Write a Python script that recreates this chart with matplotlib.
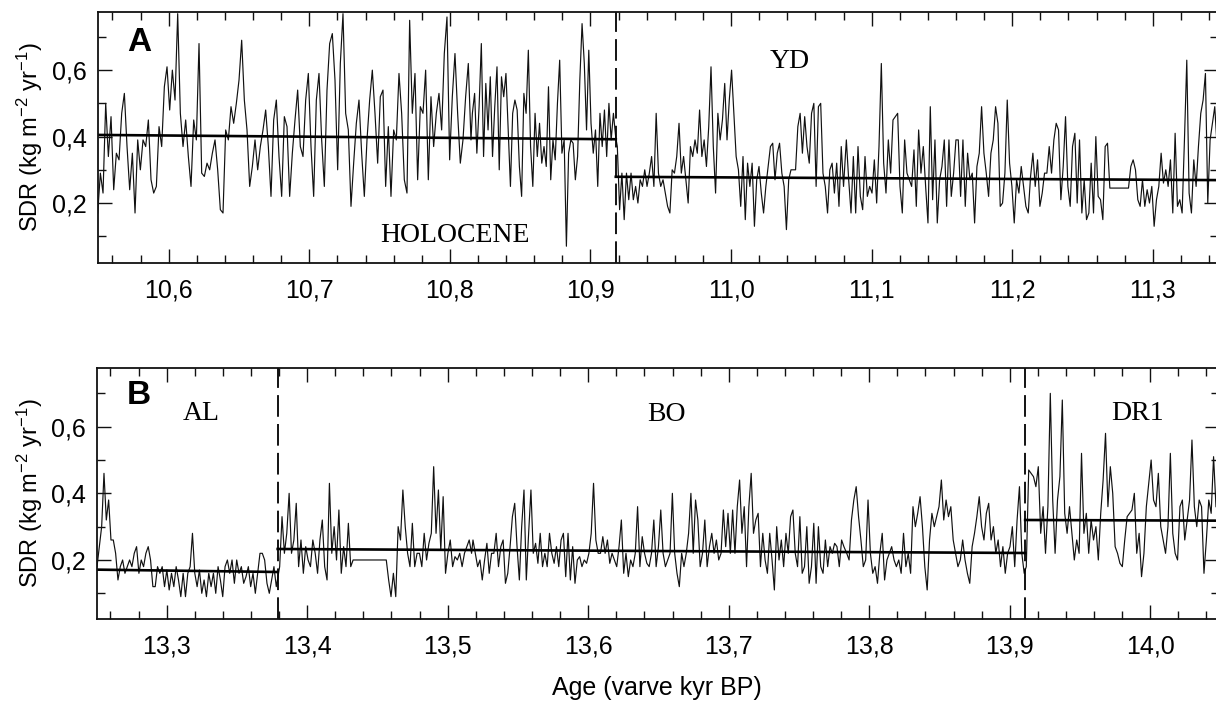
import numpy as np
import matplotlib
matplotlib.use("Agg")
import matplotlib.pyplot as plt
from matplotlib.ticker import MultipleLocator, FuncFormatter

plt.rcParams['font.family'] = ['Liberation Sans', 'DejaVu Sans']
plt.rcParams['mathtext.fontset'] = 'custom'
plt.rcParams['mathtext.rm'] = 'Liberation Sans'
plt.rcParams['mathtext.it'] = 'Liberation Sans:italic'
plt.rcParams['mathtext.bf'] = 'Liberation Sans:bold'

# ---------------- DATA (SDR, kg m-2 yr-1) ----------------
# Panel A : Holocene / Younger Dryas
holo_a_span = (10.5495, 10.815)
holo_a = [0.17,0.29,0.23,0.50,0.34,0.46,0.24,0.35,0.33,0.47,
          0.53,0.37,0.24,0.35,0.17,0.39,0.30,0.39,0.37,0.45,
          0.27,0.23,0.25,0.43,0.37,0.55,0.61,0.48,0.60,0.51,
          0.77,0.47,0.37,0.45,0.34,0.25,0.45,0.39,0.68,0.29,
          0.28,0.32,0.30,0.35,0.39,0.30,0.18,0.17,0.42,0.39,
          0.49,0.44,0.50,0.57,0.69,0.51,0.42,0.25,0.31,0.39,
          0.30,0.37,0.42,0.48,0.37,0.22,0.45,0.51,0.34,0.22,
          0.46,0.43,0.22,0.35,0.45,0.54,0.37,0.34,0.51,0.59,
          0.37,0.22,0.51,0.59,0.39,0.25,0.54,0.68,0.71,0.57,
          0.30,0.62,0.77,0.47,0.42,0.19,0.32,0.44,0.51,0.35,
          0.22,0.39,0.51,0.60,0.47,0.32,0.52,0.54,0.25,0.43,
          0.22,0.42,0.39,0.59,0.47,0.27,0.23,0.75,0.47,0.59,
          0.27,0.49,0.47,0.60,0.27,0.52,0.37,0.47,0.53,0.42,
          0.65,0.76,0.33,0.52,0.65,0.47,0.32,0.39,0.52,0.62,0.39]
holo_b_span = (10.816, 10.9179)
holo_b = [0.47,0.53,0.35,0.49,0.68,0.34,0.56,0.42,0.58,0.34,
          0.49,0.61,0.30,0.58,0.52,0.59,0.42,0.25,0.47,0.51,
          0.48,0.31,0.22,0.53,0.47,0.66,0.37,0.25,0.47,0.34,
          0.44,0.32,0.37,0.31,0.55,0.27,0.39,0.33,0.50,0.63,
          0.35,0.39,0.07,0.35,0.39,0.38,0.27,0.34,0.57,0.74,
          0.62,0.42,0.66,0.44,0.35,0.42,0.25,0.47,0.37,0.48,
          0.34,0.50,0.39,0.47,0.40]
yd_a_span = (10.9191, 11.080)
yd_a = [0.37,0.18,0.29,0.15,0.29,0.21,0.29,0.21,0.25,0.20,
        0.27,0.25,0.30,0.25,0.29,0.34,0.25,0.47,0.29,0.25,
        0.27,0.23,0.19,0.17,0.30,0.29,0.34,0.44,0.29,0.34,
        0.27,0.20,0.37,0.34,0.39,0.35,0.48,0.34,0.39,0.31,
        0.43,0.61,0.37,0.23,0.47,0.39,0.45,0.56,0.39,0.51,
        0.60,0.47,0.34,0.30,0.19,0.34,0.15,0.32,0.25,0.32,
        0.13,0.27,0.31,0.23,0.17,0.25,0.31,0.37,0.38,0.27,
        0.35,0.38,0.29,0.25,0.12,0.27,0.30,0.30,0.30,0.43,
        0.47,0.35,0.46,0.37,0.32,0.47,0.50,0.25,0.49,0.50,
        0.29,0.25,0.17,0.30,0.32,0.23,0.32,0.19,0.37,0.25]
yd_b_span = (11.082, 11.3457)
yd_b = [0.39,0.27,0.17,0.34,0.17,0.37,0.22,0.18,0.34,0.22,
        0.25,0.23,0.33,0.20,0.37,0.62,0.32,0.23,0.39,0.29,
        0.45,0.46,0.47,0.25,0.17,0.39,0.29,0.27,0.25,0.36,
        0.19,0.42,0.29,0.37,0.25,0.14,0.49,0.21,0.39,0.14,
        0.27,0.31,0.39,0.19,0.39,0.22,0.29,0.39,0.39,0.22,
        0.39,0.19,0.35,0.27,0.29,0.14,0.31,0.35,0.49,0.35,
        0.29,0.22,0.35,0.39,0.49,0.44,0.19,0.20,0.29,0.51,
        0.32,0.25,0.14,0.27,0.23,0.31,0.25,0.19,0.17,0.28,
        0.35,0.25,0.33,0.19,0.23,0.29,0.29,0.37,0.29,0.39,
        0.44,0.42,0.21,0.31,0.46,0.25,0.19,0.37,0.41,0.20,
        0.39,0.17,0.27,0.15,0.17,0.32,0.17,0.40,0.22,0.21,
        0.15,0.37,0.38,0.245,0.245,0.245,0.245,0.245,0.245,0.245,
        0.245,0.245,0.31,0.33,0.30,0.21,0.19,0.27,0.19,0.24,
        0.20,0.25,0.13,0.21,0.25,0.35,0.26,0.30,0.25,0.33,
        0.17,0.41,0.19,0.21,0.17,0.39,0.63,0.23,0.17,0.33,
        0.25,0.37,0.47,0.51,0.59,0.20,0.39,0.44,0.49,0.37]

# Panel B : Allerød / Bølling / Older Dryas
al_span = (13.2504, 13.378)
al = [0.18,0.24,0.30,0.46,0.32,0.38,0.26,0.26,0.22,0.14,
      0.18,0.20,0.16,0.18,0.20,0.18,0.22,0.24,0.16,0.20,
      0.18,0.22,0.24,0.20,0.12,0.12,0.18,0.16,0.18,0.12,
      0.17,0.11,0.16,0.12,0.18,0.14,0.09,0.16,0.09,0.16,
      0.18,0.28,0.16,0.12,0.17,0.10,0.14,0.09,0.16,0.12,
      0.16,0.10,0.18,0.14,0.09,0.18,0.20,0.16,0.20,0.13,
      0.20,0.16,0.18,0.13,0.15,0.18,0.12,0.16,0.10,0.16,
      0.22,0.22,0.20,0.13,0.10,0.14,0.18,0.12]
bo_a_span = (13.3804, 13.517)
bo_a = [0.18,0.33,0.22,0.28,0.40,0.22,0.26,0.37,0.18,0.26,
        0.16,0.24,0.20,0.18,0.26,0.22,0.16,0.26,0.32,0.18,
        0.14,0.43,0.22,0.30,0.20,0.35,0.16,0.24,0.18,0.31,
        0.18,0.20,0.20,0.20,0.20,0.20,0.20,0.20,0.20,0.20,
        0.20,0.20,0.20,0.20,0.20,0.20,0.14,0.09,0.16,0.09,
        0.30,0.26,0.41,0.30,0.22,0.18,0.31,0.18,0.22,0.22,
        0.18,0.28,0.20,0.25,0.28,0.48,0.28,0.41,0.23,0.39,
        0.16,0.22,0.26,0.18,0.21,0.20,0.22,0.18,0.22,0.24,
        0.26,0.22]
bo_b_span = (13.518, 13.782)
bo_b = [0.26,0.22,0.18,0.20,0.14,0.20,0.25,0.16,0.22,0.22,
        0.28,0.18,0.24,0.26,0.13,0.16,0.24,0.33,0.37,0.24,
        0.14,0.30,0.41,0.14,0.28,0.41,0.22,0.25,0.19,0.28,
        0.18,0.22,0.18,0.28,0.22,0.19,0.24,0.18,0.26,0.28,
        0.15,0.28,0.14,0.24,0.13,0.20,0.21,0.18,0.20,0.19,
        0.22,0.28,0.43,0.26,0.22,0.22,0.27,0.22,0.26,0.19,
        0.22,0.20,0.18,0.24,0.32,0.16,0.22,0.15,0.20,0.18,
        0.22,0.36,0.18,0.27,0.22,0.19,0.18,0.22,0.32,0.18,
        0.24,0.35,0.22,0.18,0.20,0.22,0.40,0.22,0.16,0.12,
        0.22,0.18,0.22,0.28,0.40,0.22,0.38,0.32,0.18,0.22,
        0.32,0.18,0.24,0.28,0.22,0.26,0.20,0.22,0.35,0.24,
        0.34,0.22,0.35,0.22,0.36,0.44,0.28,0.36,0.18,0.36,
        0.46,0.28,0.32,0.34,0.18,0.28,0.20,0.16,0.28,0.20,
        0.11,0.30,0.20,0.26,0.18,0.28,0.22,0.33,0.35,0.22,
        0.18,0.33,0.16,0.18,0.30,0.13,0.18,0.31,0.13,0.30,
        0.18,0.16,0.26,0.18,0.24,0.22,0.25,0.24,0.18,0.26,0.24]
bo_c_span = (13.784, 13.9103)
bo_c = [0.22,0.20,0.32,0.38,0.42,0.33,0.26,0.18,0.20,0.38,
        0.22,0.16,0.18,0.13,0.22,0.28,0.14,0.20,0.22,0.24,
        0.20,0.18,0.20,0.16,0.28,0.18,0.22,0.16,0.36,0.30,
        0.34,0.39,0.30,0.18,0.11,0.26,0.34,0.30,0.33,0.36,
        0.44,0.32,0.38,0.33,0.36,0.26,0.22,0.18,0.20,0.26,
        0.20,0.16,0.13,0.24,0.28,0.33,0.39,0.30,0.26,0.34,
        0.37,0.26,0.30,0.22,0.26,0.18,0.24,0.16,0.22,0.24,
        0.30,0.18,0.32,0.42,0.22,0.16]
dr1_span = (13.9118, 14.0468)
dr1 = [0.18,0.47,0.46,0.45,0.42,0.48,0.28,0.36,0.22,0.36,
       0.70,0.38,0.22,0.38,0.45,0.68,0.34,0.28,0.36,0.28,
       0.20,0.26,0.22,0.52,0.28,0.34,0.22,0.32,0.26,0.30,
       0.20,0.34,0.44,0.58,0.36,0.48,0.40,0.24,0.22,0.19,
       0.18,0.26,0.33,0.34,0.35,0.40,0.22,0.28,0.15,0.22,
       0.36,0.43,0.50,0.38,0.36,0.46,0.30,0.26,0.22,0.30,
       0.52,0.28,0.22,0.20,0.36,0.38,0.26,0.32,0.38,0.56,
       0.36,0.30,0.38,0.36,0.16,0.26,0.38,0.34,0.51,0.36]

# Period boundaries (kyr BP) and fitted period means (start, end values)
bounds_A = [10.918]
bounds_B = [13.379, 13.911]
mean_holocene = (0.405, 0.392)
mean_yd = (0.279, 0.269)
mean_al = (0.171, 0.164)
mean_bo = (0.233, 0.221)
mean_dr1 = (0.320, 0.318)

xlim_A = (10.5495, 11.3467)
xlim_B = (13.2504, 14.0486)
ylim_A = (0.0195, 0.775)
ylim_B = (0.022, 0.777)


def series(*segments):
    ages, vals = [], []
    for span, v in segments:
        ages.append(np.linspace(span[0], span[1], len(v)))
        vals.append(np.asarray(v, dtype=float))
    return np.concatenate(ages), np.concatenate(vals)


ageA, sdrA = series((holo_a_span, holo_a), (holo_b_span, holo_b),
                    (yd_a_span, yd_a), (yd_b_span, yd_b))
ageB, sdrB = series((al_span, al), (bo_a_span, bo_a), (bo_b_span, bo_b),
                    (bo_c_span, bo_c), (dr1_span, dr1))

# ---------------- FIGURE ----------------
W, H = 1216, 701
fig = plt.figure(figsize=(W / 100, H / 100), dpi=100)


def px_axes(l, t, r, b):
    return fig.add_axes([l / W, 1 - b / H, (r - l) / W, (b - t) / H])


axA = px_axes(97.7, 12, 1218.5, 263)
axB = px_axes(97.0, 367.7, 1218.5, 619.3)

comma = FuncFormatter(lambda v, p: f"{v:.1f}".replace('.', ','))

for ax, xl, yl in ((axA, xlim_A, ylim_A), (axB, xlim_B, ylim_B)):
    ax.set_xlim(*xl)
    ax.set_ylim(*yl)
    ax.xaxis.set_major_locator(MultipleLocator(0.1))
    ax.xaxis.set_minor_locator(MultipleLocator(0.02))
    ax.yaxis.set_major_locator(MultipleLocator(0.2))
    ax.yaxis.set_minor_locator(MultipleLocator(0.1))
    ax.xaxis.set_major_formatter(comma)
    ax.yaxis.set_major_formatter(comma)
    ax.tick_params(which='both', direction='in', top=True, right=True,
                   width=1.0, color='#111111')
    ax.tick_params(which='major', length=10)
    ax.tick_params(which='minor', length=6)
    ax.tick_params(axis='x', which='major', labelsize=18, pad=11)
    ax.tick_params(axis='y', which='major', labelsize=18, pad=8)
    for s in ax.spines.values():
        s.set_linewidth(1.3)
        s.set_color('#111111')

# data lines
axA.plot(ageA, sdrA, color='#111111', lw=0.85)
axB.plot(ageB, sdrB, color='#111111', lw=0.85)

# mean lines
axA.plot([xlim_A[0], bounds_A[0]], mean_holocene, color='k', lw=1.9)
axA.plot([bounds_A[0], xlim_A[1]], mean_yd, color='k', lw=1.9)
axB.plot([xlim_B[0], bounds_B[0]], mean_al, color='k', lw=1.9)
axB.plot([bounds_B[0], bounds_B[1]], mean_bo, color='k', lw=1.9)
axB.plot([bounds_B[1], xlim_B[1]], mean_dr1, color='k', lw=1.9)

# period boundaries
for b in bounds_A:
    axA.axvline(b, color='k', lw=1.3, dashes=(12, 4))
for b in bounds_B:
    axB.axvline(b, color='k', lw=1.3, dashes=(12, 4))


def ftext(x, y, s, **kw):
    fig.text(x / W, 1 - y / H, s, **kw)


ylab = 'SDR (kg m$^{-2}$ yr$^{-1}$)'
ftext(29.5, 137.5, ylab, rotation=90, ha='center', va='center', fontsize=17)
ftext(29.5, 493.5, ylab, rotation=90, ha='center', va='center', fontsize=17)
ftext(657, 688, 'Age (varve kyr BP)', ha='center', va='center', fontsize=18)

ftext(139, 51, 'A', ha='center', va='baseline', fontsize=24, fontweight='bold')
ftext(139, 404, 'B', ha='center', va='baseline', fontsize=24, fontweight='bold')

serif = dict(family=['Liberation Serif', 'DejaVu Serif'], fontsize=20,
             ha='center', va='baseline')
ftext(455, 241.5, 'HOLOCENE', **serif)
ftext(790, 68, 'YD', **serif)
ftext(201, 420, 'AL', **serif)
ftext(666, 421, 'BO', **serif)
ftext(1137.5, 420, 'DR1', **serif)

fig.savefig('out.png', dpi=100)
